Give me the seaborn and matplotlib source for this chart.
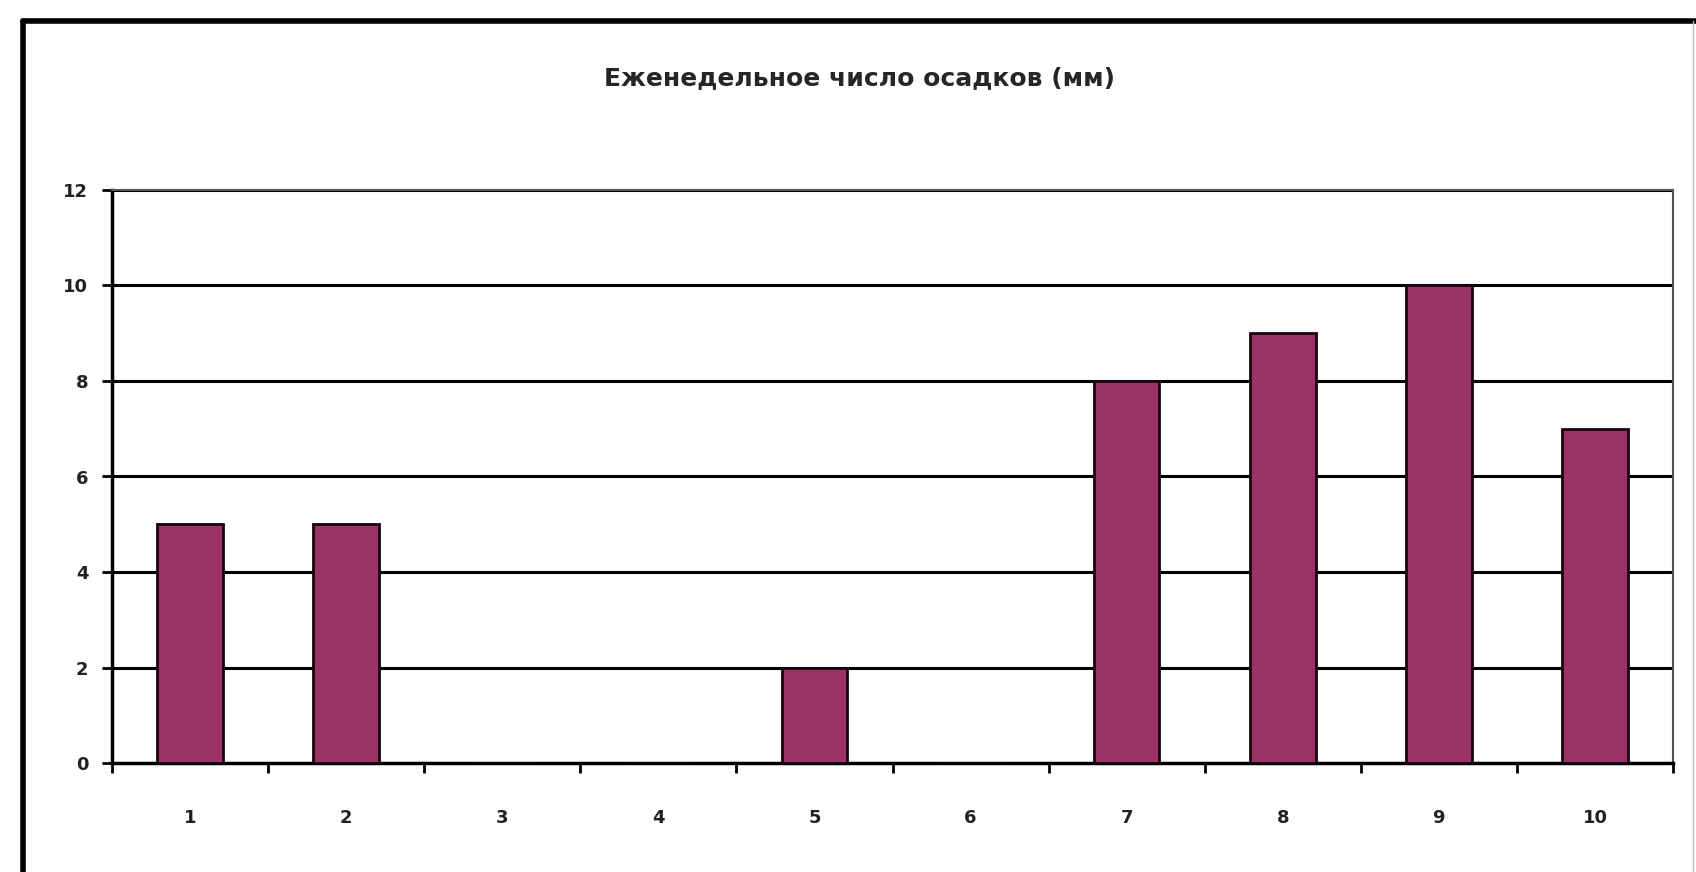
import seaborn as sns
import pandas as pd
import numpy as np
import matplotlib.pyplot as plt
from matplotlib.lines import Line2D

# Weekly rainfall data
weeks = ['1', '2', '3', '4', '5', '6', '7', '8', '9', '10']
rain_mm = [5, 5, 0, 0, 2, 0, 8, 9, 10, 7]
title = 'Еженедельное число осадков (мм)'

df = pd.DataFrame({'Неделя': weeks, 'Осадки': rain_mm})

sns.set_style('white')
plt.rcParams['font.family'] = ['DejaVu Sans']

fig = plt.figure(figsize=(16.96, 8.72), dpi=100)
ax = fig.add_axes([112 / 1696, 1 - 763 / 872, (1673 - 112) / 1696, (763 - 190) / 872])

sns.barplot(x='Неделя', y='Осадки', data=df, color='#993366', width=0.42,
            edgecolor='#1a0010', linewidth=2, saturation=1, ax=ax, zorder=3)

# Axis range and grid
ax.set_ylim(0, 12)
ax.set_xlim(-0.5, len(weeks) - 0.5)
ax.set_yticks(np.arange(0, 13, 2))
ax.yaxis.grid(True, color='black', linewidth=2.2, zorder=0)
ax.set_axisbelow(True)

# Excel-like ticks: marks between categories
ax.set_xticks(np.arange(-0.5, len(weeks), 1), minor=True)
ax.tick_params(axis='x', which='major', bottom=True, length=0, pad=33, labelsize=13)
ax.tick_params(axis='x', which='minor', bottom=True, length=7, width=2, direction='out', color='black')
ax.tick_params(axis='y', left=True, length=7, width=2, direction='out', color='black', pad=10, labelsize=13)
for lab in ax.get_xticklabels() + ax.get_yticklabels():
    lab.set_fontweight('bold')
    lab.set_color('#222222')
ax.set_xlabel('')
ax.set_ylabel('')

for side in ['left', 'bottom']:
    ax.spines[side].set_color('black')
    ax.spines[side].set_linewidth(2.5)
for side in ['top', 'right']:
    ax.spines[side].set_visible(True)
    ax.spines[side].set_color('#555555')
    ax.spines[side].set_linewidth(1.5)

fig.text(860 / 1696, 1 - 78 / 872, title, ha='center', va='center', fontsize=18, fontweight='bold')

# outer frame of the chart area
fig.add_artist(Line2D([23 / 1696, 23 / 1696], [0, 1 - 21 / 872], color='black', linewidth=4))
fig.add_artist(Line2D([23 / 1696, 1], [1 - 21 / 872, 1 - 21 / 872], color='black', linewidth=4))
fig.add_artist(Line2D([1693 / 1696, 1693 / 1696], [0, 1 - 21 / 872], color='#bbbbbb', linewidth=1))

fig.savefig('out.png', dpi=100)
